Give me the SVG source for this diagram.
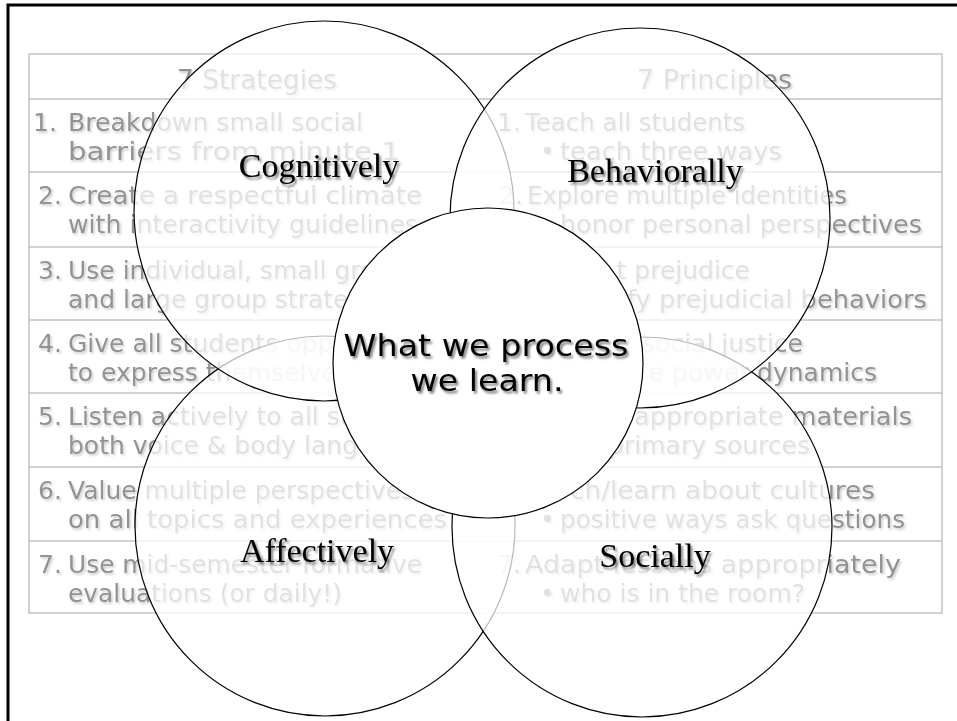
<svg xmlns="http://www.w3.org/2000/svg" width="957" height="721" viewBox="0 0 957 721">
<defs>
<style>
.tt{font-family:"DejaVu Sans","Liberation Sans",sans-serif;font-size:25px;fill:#939393;}
.hd{font-size:26.5px;}
.tl{fill:none;stroke:#c4c4c4;stroke-width:1.5;}
.ring{fill:#ffffff;fill-opacity:0.72;stroke:#000;stroke-width:1.2;}
.core{fill:#ffffff;stroke:#000;stroke-width:1.2;}
.lab{font-family:"Liberation Serif","Times New Roman",serif;font-size:34px;fill:#000;text-anchor:middle;}
.ctr{font-family:"DejaVu Sans","Liberation Sans",sans-serif;font-size:31px;fill:#000;text-anchor:middle;}
.e{text-anchor:end;}
</style>
<filter id="tsh" x="-5%" y="-30%" width="110%" height="160%">
<feDropShadow dx="1.5" dy="1.8" stdDeviation="1" flood-color="#000" flood-opacity="0.2"/>
</filter>
<filter id="lsh" x="-5%" y="-30%" width="110%" height="160%">
<feDropShadow dx="2" dy="2.5" stdDeviation="1.3" flood-color="#000" flood-opacity="0.5"/>
</filter>
</defs>
<rect width="957" height="721" fill="#fff"/>
<path d="M8,721 V5 H957" fill="none" stroke="#000" stroke-width="3"/>

<g id="table">
<rect class="tl" x="29" y="54" width="913" height="559"/>
<path class="tl" d="M29,99H942M29,172H942M29,247H942M29,320H942M29,393H942M29,467H942M29,541H942"/>
<g filter="url(#tsh)" class="tt">
<text class="hd" x="177" y="89" textLength="160" lengthAdjust="spacingAndGlyphs">7 Strategies</text>
<text class="hd" x="637" y="89" textLength="155" lengthAdjust="spacingAndGlyphs">7 Principles</text>

<text x="33" y="131">1.</text>
<text x="68" y="131" textLength="295" lengthAdjust="spacingAndGlyphs">Breakdown small social</text>
<text x="68" y="160" textLength="332" lengthAdjust="spacingAndGlyphs">barriers from minute 1</text>
<text x="38" y="204">2.</text>
<text x="68" y="204" textLength="354" lengthAdjust="spacingAndGlyphs">Create a respectful climate</text>
<text x="68" y="233" textLength="350" lengthAdjust="spacingAndGlyphs">with interactivity guidelines</text>
<text x="38" y="279">3.</text>
<text x="68" y="279">Use individual, small group</text>
<text x="68" y="308">and large group strategies</text>
<text x="38" y="352">4.</text>
<text x="68" y="352">Give all students opportunities</text>
<text x="68" y="381">to express themselves</text>
<text x="38" y="425">5.</text>
<text x="68" y="425">Listen actively to all students</text>
<text x="68" y="454">both voice &amp; body language</text>
<text x="38" y="499">6.</text>
<text x="68" y="499">Value multiple perspectives</text>
<text x="68" y="528" textLength="379" lengthAdjust="spacingAndGlyphs">on all topics and experiences</text>
<text x="38" y="573">7.</text>
<text x="68" y="573" textLength="354" lengthAdjust="spacingAndGlyphs">Use mid-semester formative</text>
<text x="68" y="602" textLength="274" lengthAdjust="spacingAndGlyphs">evaluations (or daily!)</text>

<text x="497" y="131">1.</text>
<text x="525" y="131" textLength="220" lengthAdjust="spacingAndGlyphs">Teach all students</text>
<text x="540" y="160">•</text>
<text x="560" y="160" textLength="222" lengthAdjust="spacingAndGlyphs">teach three ways</text>
<text x="499" y="204">2.</text>
<text x="527" y="204" textLength="320" lengthAdjust="spacingAndGlyphs">Explore multiple identities</text>
<text x="560" y="233" textLength="362" lengthAdjust="spacingAndGlyphs">honor personal perspectives</text>
<text class="e" x="750" y="279">t prejudice</text>
<text class="e" x="927" y="308" textLength="300" lengthAdjust="spacingAndGlyphs">fy prejudicial behaviors</text>
<text class="e" x="803" y="352">social justice</text>
<text class="e" x="877" y="381">e power dynamics</text>
<text class="e" x="912" y="425" textLength="278" lengthAdjust="spacingAndGlyphs">appropriate materials</text>
<text class="e" x="810" y="454">primary sources</text>
<text class="e" x="875" y="499" textLength="305" lengthAdjust="spacingAndGlyphs">ch/learn about cultures</text>
<text x="540" y="528">•</text>
<text x="560" y="528" textLength="345" lengthAdjust="spacingAndGlyphs">positive ways ask questions</text>
<text x="497" y="573">7.</text>
<text x="525" y="573" textLength="376" lengthAdjust="spacingAndGlyphs">Adapt lessons appropriately</text>
<text x="540" y="602">•</text>
<text x="560" y="602" textLength="245" lengthAdjust="spacingAndGlyphs">who is in the room?</text>
</g>
</g>

<g id="affectively">
<circle class="ring" cx="325" cy="526" r="190"/>
<text class="lab" x="317" y="562" filter="url(#lsh)">Affectively</text>
</g>
<g id="socially">
<circle class="ring" cx="642" cy="527" r="190"/>
<text class="lab" x="655" y="567" filter="url(#lsh)">Socially</text>
</g>
<g id="cognitively">
<circle class="ring" cx="324" cy="211" r="190"/>
<text class="lab" x="319" y="177" filter="url(#lsh)">Cognitively</text>
</g>
<g id="behaviorally">
<circle class="ring" cx="640" cy="218" r="190"/>
<text class="lab" x="655" y="182" filter="url(#lsh)">Behaviorally</text>
</g>
<g id="center">
<circle class="core" cx="488" cy="363" r="155"/>
<g filter="url(#lsh)">
<text class="ctr" x="486" y="356" textLength="285" lengthAdjust="spacingAndGlyphs">What we process</text>
<text class="ctr" x="487" y="391" textLength="153" lengthAdjust="spacingAndGlyphs">we learn.</text>
</g>
</g>
</svg>
